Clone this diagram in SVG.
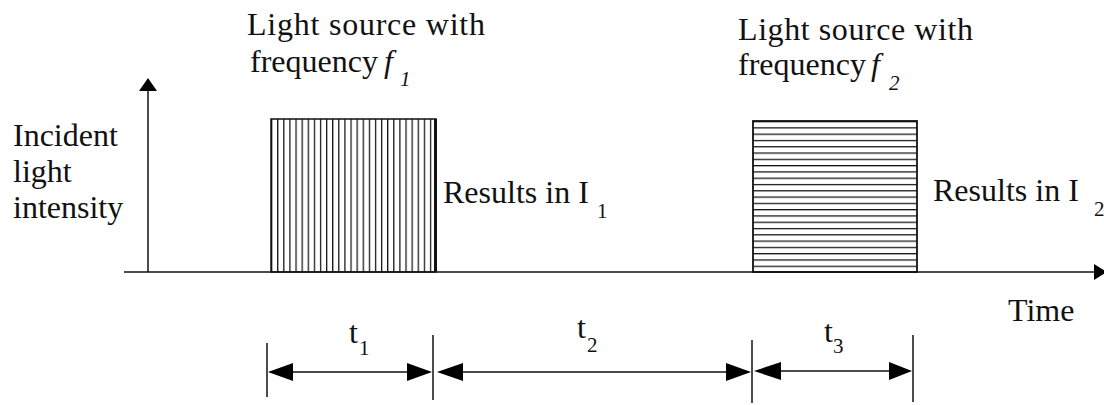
<svg xmlns="http://www.w3.org/2000/svg" width="1104" height="405" viewBox="0 0 1104 405">
<style>
text{font-family:"Liberation Serif","Times New Roman",serif;fill:#111;}
.lbl{font-size:32px;}
.sub{font-size:21px;}
.it{font-style:italic;}
.ln{stroke:#111;stroke-width:1.5;fill:none;}
.hatch{stroke:#111;stroke-width:1.3;}
.ah{fill:#000;}
</style>
<defs>
<pattern id="vhatch" patternUnits="userSpaceOnUse" x="271" y="0" width="6.11" height="10">
<line x1="0.6" y1="0" x2="0.6" y2="10" class="hatch"/>
</pattern>
<pattern id="hhatch" patternUnits="userSpaceOnUse" x="0" y="121" width="10" height="6.29">
<line x1="0" y1="0.6" x2="10" y2="0.6" class="hatch"/>
</pattern>
</defs>

<g id="axes">
<line x1="148" y1="272" x2="148" y2="89" class="ln"/>
<polygon points="148,78 139,91 157,91" class="ah"/>
<line x1="124" y1="272" x2="1096" y2="272" class="ln"/>
<polygon points="1107,272 1094,264 1094,280" class="ah"/>
</g>

<g id="ylabel">
<text class="lbl" x="13" y="146">Incident</text>
<text class="lbl" x="13" y="182">light</text>
<text class="lbl" x="13" y="218">intensity</text>
</g>

<g id="pulse1">
<rect x="271" y="119" width="165" height="153" fill="url(#vhatch)" stroke="#111" stroke-width="1.5"/>
<line x1="435.5" y1="119" x2="435.5" y2="272" stroke="#111" stroke-width="3"/>
</g>

<g id="pulse2">
<rect x="753" y="121" width="164" height="151" fill="url(#hhatch)" stroke="#111" stroke-width="1.8"/>
</g>

<g id="source1">
<text class="lbl" x="247" y="35" textLength="238" lengthAdjust="spacing">Light source with</text>
<text class="lbl" x="250" y="72">frequency</text>
<text class="lbl it" x="384" y="72">f</text>
<text class="sub it" x="400" y="86">1</text>
</g>

<g id="source2">
<text class="lbl" x="738" y="40" textLength="235" lengthAdjust="spacing">Light source with</text>
<text class="lbl" x="738" y="75">frequency</text>
<text class="lbl it" x="871" y="75">f</text>
<text class="sub it" x="889" y="90">2</text>
</g>

<g id="result1">
<text class="lbl" x="443" y="203">Results in I</text>
<text class="sub" x="597" y="218">1</text>
</g>

<g id="result2">
<text class="lbl" x="933" y="201">Results in I</text>
<text class="sub" x="1094" y="216">2</text>
</g>

<g id="timelabel">
<text class="lbl" x="1008" y="321">Time</text>
</g>

<g id="connectors">
<line x1="267" y1="343" x2="267" y2="397" class="ln"/>
<line x1="433" y1="335" x2="433" y2="400" class="ln"/>
<line x1="752" y1="340" x2="752" y2="403" class="ln"/>
<line x1="913" y1="335" x2="913" y2="402" class="ln"/>
<line x1="270" y1="372" x2="430" y2="372" class="ln"/>
<polygon points="268,372 293,363 293,381" class="ah"/>
<polygon points="432,372 407,363 407,381" class="ah"/>
<line x1="440" y1="372" x2="749" y2="372" class="ln"/>
<polygon points="437,372 463,363 463,381" class="ah"/>
<polygon points="751,372 726,363 726,381" class="ah"/>
<line x1="757" y1="371" x2="910" y2="371" class="ln"/>
<polygon points="754,371 781,362 781,380" class="ah"/>
<polygon points="912,371 889,362 889,380" class="ah"/>
</g>

<g id="durations">
<text class="lbl" x="349" y="343" font-size="30">t</text>
<text class="sub" x="359" y="355">1</text>
<text class="lbl" x="577" y="338" font-size="30">t</text>
<text class="sub" x="587" y="352">2</text>
<text class="lbl" x="824" y="342" font-size="30">t</text>
<text class="sub" x="833" y="353">3</text>
</g>
</svg>
